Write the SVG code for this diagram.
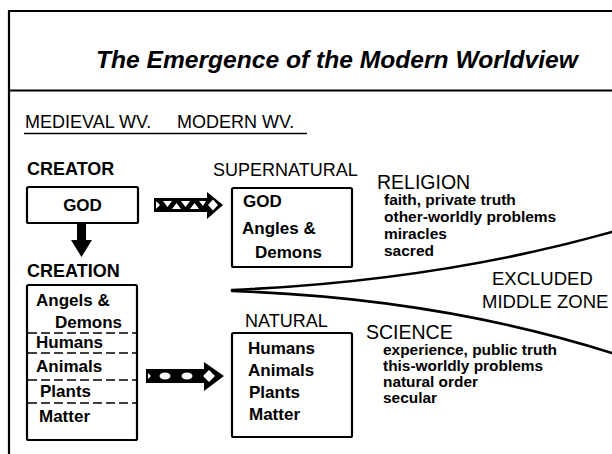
<svg xmlns="http://www.w3.org/2000/svg" width="612" height="454" viewBox="0 0 612 454">
<style>
text{font-family:"Liberation Sans",Arial,sans-serif;fill:#000}
.t{font-weight:bold;font-style:italic;font-size:24.6px}
.h{font-size:18px}
.hb{font-size:18px;font-weight:bold}
.bx{font-size:17px;font-weight:bold}
.big{font-size:19.5px}
.sm{font-size:15.5px;font-weight:bold}
.sc{font-size:14px;font-weight:bold}
.ex{font-size:18.5px}
.box{fill:#fff;stroke:#000;stroke-width:2.2}
.dash{stroke:#000;stroke-width:1.6;stroke-dasharray:9 4;fill:none}
.frame{stroke:#000;stroke-width:2.2;fill:none}
.wedge{stroke:#000;stroke-width:2.6;fill:none;stroke-linecap:round}
</style>
<rect width="612" height="454" fill="#fff"/>
<g id="frame">
<path class="frame" d="M9,454 V11 H612"/>
<path class="frame" d="M9,90.5 H612"/>
</g>
<g id="title"><text class="t" x="96" y="68">The Emergence of the Modern Worldview</text></g>
<g id="header">
<text class="h" x="25" y="128">MEDIEVAL WV.</text>
<text class="h" x="177" y="128">MODERN WV.</text>
<line x1="24" y1="133.5" x2="307" y2="133.5" stroke="#000" stroke-width="1.3"/>
</g>
<g id="creator">
<text class="hb" x="27" y="175">CREATOR</text>
<rect class="box" x="27" y="187" width="111" height="36" rx="1.5"/>
<text class="bx" x="82.5" y="211" text-anchor="middle">GOD</text>
</g>
<g id="creation">
<text class="hb" x="27" y="277">CREATION</text>
<rect class="box" x="27" y="285" width="110" height="155" rx="1.5"/>
<text class="bx" x="36" y="306">Angels &amp;</text>
<text class="bx" x="55" y="328">Demons</text>
<line class="dash" x1="28" y1="333" x2="136" y2="333"/>
<text class="bx" x="36" y="348">Humans</text>
<line class="dash" x1="28" y1="353" x2="136" y2="353"/>
<text class="bx" x="36" y="372">Animals</text>
<line class="dash" x1="28" y1="380" x2="136" y2="380"/>
<text class="bx" x="40" y="397">Plants</text>
<line class="dash" x1="28" y1="403" x2="136" y2="403"/>
<text class="bx" x="39" y="422">Matter</text>
</g>
<g id="supernatural">
<text class="h" x="213" y="176">SUPERNATURAL</text>
<rect class="box" x="232" y="188" width="120" height="79" rx="1.5"/>
<text class="bx" x="243" y="207">GOD</text>
<text class="bx" x="242" y="234">Angles &amp;</text>
<text class="bx" x="255" y="258">Demons</text>
</g>
<g id="natural">
<text class="h" x="245" y="327">NATURAL</text>
<rect class="box" x="232" y="333" width="120" height="104" rx="1.5"/>
<text class="bx" x="248" y="354">Humans</text>
<text class="bx" x="248" y="376">Animals</text>
<text class="bx" x="249" y="398">Plants</text>
<text class="bx" x="249" y="420">Matter</text>
</g>
<g id="religion">
<text class="big" x="377" y="189">RELIGION</text>
<text class="sm" x="384" y="205">faith, private truth</text>
<text class="sm" x="384" y="222">other-worldly problems</text>
<text class="sm" x="384" y="239">miracles</text>
<text class="sm" x="384" y="256">sacred</text>
</g>
<g id="excluded">
<text class="ex" x="492" y="285">EXCLUDED</text>
<text class="ex" x="482" y="308">MIDDLE ZONE</text>
</g>
<g id="science">
<text class="big" x="366" y="339">SCIENCE</text>
<text class="sc" x="383" y="355" textLength="174" lengthAdjust="spacingAndGlyphs">experience, public truth</text>
<text class="sc" x="383" y="371" textLength="160" lengthAdjust="spacingAndGlyphs">this-worldly problems</text>
<text class="sc" x="383" y="387" textLength="95" lengthAdjust="spacingAndGlyphs">natural order</text>
<text class="sc" x="383" y="403" textLength="54" lengthAdjust="spacingAndGlyphs">secular</text>
</g>
<g id="connectors">
<path d="M77,222 H86 V240 H92 L81.5,257 L71,240 H77 Z" fill="#000"/>
<g id="arrow-top">
<path d="M154,198 H207 V192 L223,205 L207,219 V212 H154 Z" fill="#000"/>
<path d="M156,201 L160,205 L156,209 Z M163,201 H172 L167.5,207 Z M172,209 L176.5,203 L181,209 Z M181,201 H190 L185.5,207 Z M190,209 L194.5,203 L199,209 Z M199,201 H206 L203,206 Z M208,205 L213,199.5 L218,205 L213,210.5 Z" fill="#fff"/>
</g>
<g id="arrow-bottom">
<path d="M146,369 H204 V362 L224,376 L204,391 V383 H146 Z" fill="#000"/>
<path d="M148,373 L151,376 L148,379 Z" fill="#fff"/>
<ellipse cx="165" cy="376" rx="5.5" ry="3.5" fill="#fff"/>
<ellipse cx="187" cy="376" rx="5.5" ry="3.5" fill="#fff"/>
<path d="M203,376 L209,370 L215,376 L209,382 Z" fill="#fff"/>
</g>
<path class="wedge" d="M232,290 Q438,281 612,232"/>
<path class="wedge" d="M232,291 Q438,298 612,353"/>
</g>
</svg>
